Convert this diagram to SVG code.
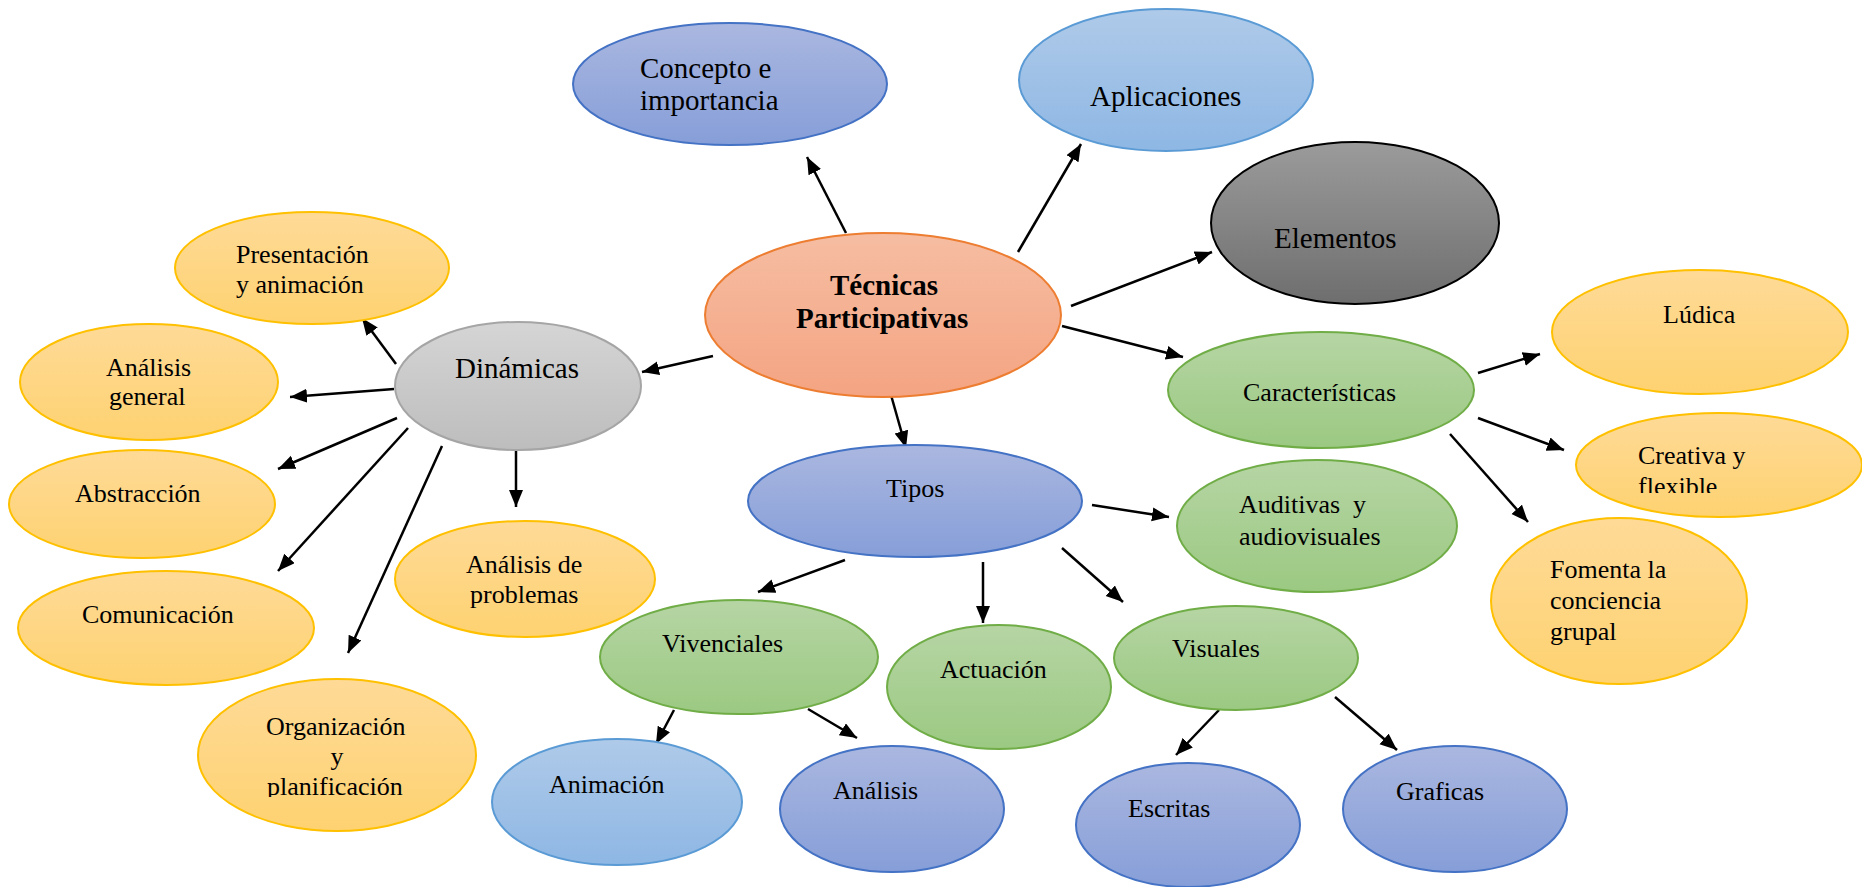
<svg xmlns="http://www.w3.org/2000/svg" width="1862" height="887" viewBox="0 0 1862 887">
<style>
text{font-family:"Liberation Serif","Times New Roman",serif;fill:#000;}
.t29{font-size:29px;}
.t26{font-size:26px;}
.b{font-weight:bold;}
.yel{fill:url(#gYel);stroke:#FFC000;stroke-width:2;}
.grn{fill:url(#gGrn);stroke:#70AD47;stroke-width:2;}
.blu{fill:url(#gBlu);stroke:#4472C4;stroke-width:2;}
.lbl{fill:url(#gLbl);stroke:#5B9BD5;stroke-width:2;}
.org{fill:url(#gOrg);stroke:#ED7D31;stroke-width:2;}
.gry{fill:url(#gGry);stroke:#A5A5A5;stroke-width:2;}
.dgy{fill:url(#gDgy);stroke:#000;stroke-width:2;}
.edge{stroke:#000;stroke-width:2.5;fill:none;marker-end:url(#arr);}
</style>
<defs>
<linearGradient id="gYel" x1="0" y1="0" x2="0" y2="1"><stop offset="0" stop-color="#FEDA97"/><stop offset="1" stop-color="#FED271"/></linearGradient>
<linearGradient id="gGrn" x1="0" y1="0" x2="0" y2="1"><stop offset="0" stop-color="#B6D5A4"/><stop offset="1" stop-color="#9BC982"/></linearGradient>
<linearGradient id="gBlu" x1="0" y1="0" x2="0" y2="1"><stop offset="0" stop-color="#AAB7E0"/><stop offset="1" stop-color="#869ED8"/></linearGradient>
<linearGradient id="gLbl" x1="0" y1="0" x2="0" y2="1"><stop offset="0" stop-color="#AFCAE9"/><stop offset="1" stop-color="#8EB7E4"/></linearGradient>
<linearGradient id="gOrg" x1="0" y1="0" x2="0" y2="1"><stop offset="0" stop-color="#F6BDA2"/><stop offset="1" stop-color="#F4A482"/></linearGradient>
<linearGradient id="gGry" x1="0" y1="0" x2="0" y2="1"><stop offset="0" stop-color="#D5D5D5"/><stop offset="1" stop-color="#BDBDBD"/></linearGradient>
<linearGradient id="gDgy" x1="0" y1="0" x2="0" y2="1"><stop offset="0" stop-color="#9B9B9B"/><stop offset="1" stop-color="#6E6E6E"/></linearGradient>
<marker id="arr" markerUnits="userSpaceOnUse" markerWidth="20" markerHeight="16" refX="17" refY="7" orient="auto"><path d="M0,0 L17,7 L0,14 Z" fill="#000"/></marker>
<clipPath id="clipPlan"><rect x="0" y="0" width="1862" height="797"/></clipPath>
<clipPath id="clipFlex"><rect x="0" y="0" width="1862" height="493"/></clipPath>
</defs>

<g id="connectors">
<line class="edge" x1="846" y1="233" x2="807" y2="157"/>
<line class="edge" x1="1018" y1="252" x2="1081" y2="144"/>
<line class="edge" x1="1071" y1="306" x2="1212" y2="252"/>
<line class="edge" x1="1062" y1="326" x2="1183" y2="357"/>
<line class="edge" x1="891" y1="395" x2="906" y2="448"/>
<line class="edge" x1="713" y1="356" x2="642" y2="372"/>
<line class="edge" x1="396" y1="364" x2="362" y2="318"/>
<line class="edge" x1="394" y1="389" x2="290" y2="397"/>
<line class="edge" x1="397" y1="418" x2="278" y2="469"/>
<line class="edge" x1="408" y1="428" x2="278" y2="571"/>
<line class="edge" x1="442" y1="446" x2="348" y2="653"/>
<line class="edge" x1="516" y1="445" x2="516" y2="507"/>
<line class="edge" x1="1092" y1="505" x2="1169" y2="517"/>
<line class="edge" x1="845" y1="560" x2="758" y2="592"/>
<line class="edge" x1="983" y1="562" x2="983" y2="623"/>
<line class="edge" x1="1062" y1="548" x2="1123" y2="602"/>
<line class="edge" x1="674" y1="710" x2="656" y2="744"/>
<line class="edge" x1="808" y1="709" x2="857" y2="738"/>
<line class="edge" x1="1219" y1="710" x2="1176" y2="755"/>
<line class="edge" x1="1335" y1="697" x2="1397" y2="750"/>
<line class="edge" x1="1478" y1="373" x2="1540" y2="354"/>
<line class="edge" x1="1478" y1="418" x2="1564" y2="450"/>
<line class="edge" x1="1450" y1="434" x2="1528" y2="522"/>
</g>

<g id="tecnicas">
<ellipse class="org" cx="883" cy="315" rx="178" ry="82"/>
<text class="t29 b" x="830" y="295">Técnicas</text>
<text class="t29 b" x="796" y="328">Participativas</text>
</g>
<g id="concepto">
<ellipse class="blu" cx="730" cy="84" rx="157" ry="61"/>
<text class="t29" x="640" y="78">Concepto e</text>
<text class="t29" x="640" y="110">importancia</text>
</g>
<g id="aplicaciones">
<ellipse class="lbl" cx="1166" cy="80" rx="147" ry="71"/>
<text class="t29" x="1090" y="106">Aplicaciones</text>
</g>
<g id="elementos">
<ellipse class="dgy" cx="1355" cy="223" rx="144" ry="81"/>
<text class="t29" x="1274" y="248">Elementos</text>
</g>
<g id="dinamicas">
<ellipse class="gry" cx="518" cy="386" rx="123" ry="64"/>
<text class="t29" x="455" y="378">Dinámicas</text>
</g>
<g id="presentacion">
<ellipse class="yel" cx="312" cy="268" rx="137" ry="56"/>
<text class="t26" x="236" y="263">Presentación</text>
<text class="t26" x="236" y="293">y animación</text>
</g>
<g id="analisis-general">
<ellipse class="yel" cx="149" cy="382" rx="129" ry="58"/>
<text class="t26" x="106" y="376">Análisis</text>
<text class="t26" x="109" y="405">general</text>
</g>
<g id="abstraccion">
<ellipse class="yel" cx="142" cy="504" rx="133" ry="54"/>
<text class="t26" x="75" y="502">Abstracción</text>
</g>
<g id="comunicacion">
<ellipse class="yel" cx="166" cy="628" rx="148" ry="57"/>
<text class="t26" x="82" y="623">Comunicación</text>
</g>
<g id="organizacion">
<ellipse class="yel" cx="337" cy="755" rx="139" ry="76"/>
<text class="t26" x="266" y="735">Organización</text>
<text class="t26" x="337" y="765" text-anchor="middle">y</text>
<text class="t26" x="267" y="795" clip-path="url(#clipPlan)">planificación</text>
</g>
<g id="analisis-problemas">
<ellipse class="yel" cx="525" cy="579" rx="130" ry="58"/>
<text class="t26" x="466" y="573">Análisis de</text>
<text class="t26" x="470" y="603">problemas</text>
</g>
<g id="tipos">
<ellipse class="blu" cx="915" cy="501" rx="167" ry="56"/>
<text class="t26" x="886" y="497">Tipos</text>
</g>
<g id="auditivas">
<ellipse class="grn" cx="1317" cy="526" rx="140" ry="66"/>
<text class="t26" x="1239" y="513" style="white-space:pre">Auditivas  y</text>
<text class="t26" x="1239" y="545">audiovisuales</text>
</g>
<g id="vivenciales">
<ellipse class="grn" cx="739" cy="657" rx="139" ry="57"/>
<text class="t26" x="662" y="652">Vivenciales</text>
</g>
<g id="actuacion">
<ellipse class="grn" cx="999" cy="687" rx="112" ry="62"/>
<text class="t26" x="940" y="678">Actuación</text>
</g>
<g id="visuales">
<ellipse class="grn" cx="1236" cy="658" rx="122" ry="52"/>
<text class="t26" x="1172" y="657">Visuales</text>
</g>
<g id="animacion">
<ellipse class="lbl" cx="617" cy="802" rx="125" ry="63"/>
<text class="t26" x="549" y="793">Animación</text>
</g>
<g id="analisis">
<ellipse class="blu" cx="892" cy="809" rx="112" ry="63"/>
<text class="t26" x="833" y="799">Análisis</text>
</g>
<g id="escritas">
<ellipse class="blu" cx="1188" cy="825" rx="112" ry="62"/>
<text class="t26" x="1128" y="817">Escritas</text>
</g>
<g id="graficas">
<ellipse class="blu" cx="1455" cy="809" rx="112" ry="63"/>
<text class="t26" x="1396" y="800">Graficas</text>
</g>
<g id="caracteristicas">
<ellipse class="grn" cx="1321" cy="390" rx="153" ry="58"/>
<text class="t26" x="1243" y="401">Características</text>
</g>
<g id="ludica">
<ellipse class="yel" cx="1700" cy="332" rx="148" ry="62"/>
<text class="t26" x="1663" y="323">Lúdica</text>
</g>
<g id="creativa">
<ellipse class="yel" cx="1719" cy="465" rx="143" ry="52"/>
<text class="t26" x="1638" y="464">Creativa y</text>
<text class="t26" x="1638" y="495" clip-path="url(#clipFlex)">flexible</text>
</g>
<g id="fomenta">
<ellipse class="yel" cx="1619" cy="601" rx="128" ry="83"/>
<text class="t26" x="1550" y="578">Fomenta la</text>
<text class="t26" x="1550" y="609">conciencia</text>
<text class="t26" x="1550" y="640">grupal</text>
</g>
</svg>
